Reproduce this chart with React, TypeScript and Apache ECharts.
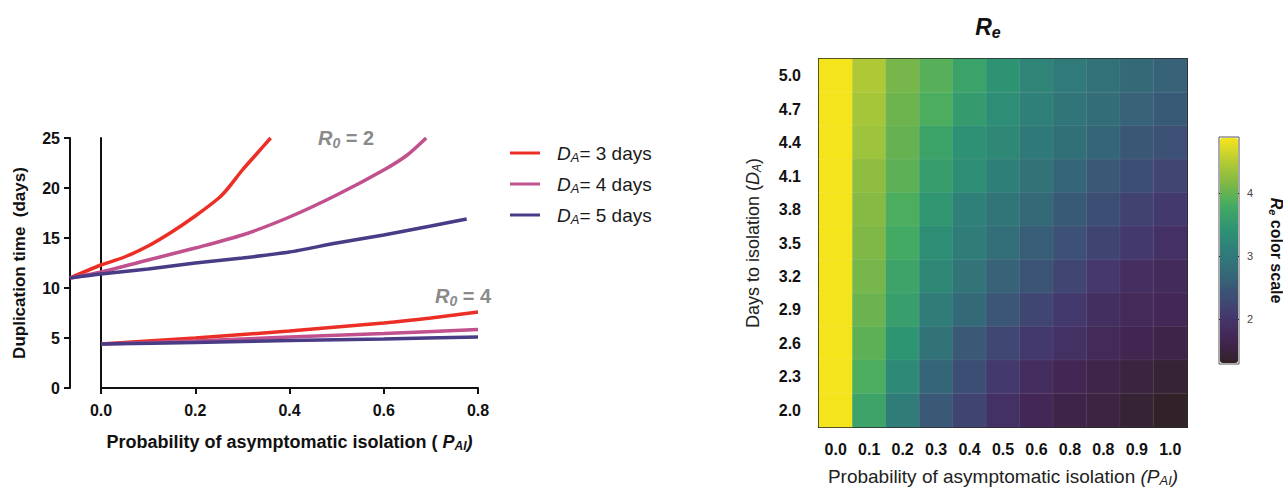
import React, { useEffect, useRef } from 'react';
import * as echarts from 'echarts';

const FONT = '"Liberation Sans", Arial, Helvetica, sans-serif';

// ---- Left chart: duplication time vs P_AI ----
const daysLabels = ['3', '4', '5'];
const lineColors = ['#ec2f26', '#c0508e', '#4a3b86'];
const xTicks = [0, 0.2, 0.4, 0.6, 0.8];

// R0 = 2 curves  [P_AI, duplication time]
const r2Da3: number[][] = [[-0.066, 11.0], [0, 12.3], [0.05, 13.1], [0.1, 14.2], [0.15, 15.6], [0.2, 17.2], [0.25, 19.0], [0.27, 20.0], [0.3, 21.8], [0.33, 23.4], [0.36, 25.0]];
const r2Da4: number[][] = [[-0.066, 11.0], [0, 11.6], [0.1, 12.8], [0.2, 14.0], [0.3, 15.3], [0.4, 17.1], [0.5, 19.3], [0.6, 21.8], [0.65, 23.3], [0.69, 25.0]];
const r2Da5: number[][] = [[-0.066, 11.0], [0, 11.4], [0.1, 11.9], [0.2, 12.5], [0.3, 13.0], [0.4, 13.6], [0.5, 14.5], [0.6, 15.3], [0.7, 16.2], [0.776, 16.9]];
// R0 = 4 curves
const r4Da3: number[][] = [[0, 4.4], [0.2, 5.0], [0.4, 5.7], [0.6, 6.5], [0.7, 7.0], [0.8, 7.6]];
const r4Da4: number[][] = [[0, 4.4], [0.2, 4.7], [0.4, 5.1], [0.6, 5.45], [0.8, 5.85]];
const r4Da5: number[][] = [[0, 4.4], [0.2, 4.55], [0.4, 4.75], [0.6, 4.9], [0.8, 5.1]];

// ---- Right chart: Re heatmap ----
const heatX = ['0.0', '0.1', '0.2', '0.3', '0.4', '0.5', '0.6', '0.8', '0.8', '0.9', '1.0'];
const heatY = ['2.0', '2.3', '2.6', '2.9', '3.2', '3.5', '3.8', '4.1', '4.4', '4.7', '5.0'];
// rows listed from top (D_A = 5.0) to bottom (D_A = 2.0)
const reRow50 = [4.85, 4.45, 4.10, 3.92, 3.66, 3.42, 3.18, 3.02, 2.86, 2.72, 2.62];
const reRow47 = [4.85, 4.40, 4.05, 3.85, 3.55, 3.35, 3.12, 2.92, 2.80, 2.62, 2.52];
const reRow44 = [4.85, 4.35, 4.00, 3.67, 3.40, 3.24, 3.00, 2.84, 2.68, 2.48, 2.38];
const reRow41 = [4.85, 4.25, 3.95, 3.58, 3.33, 3.10, 2.88, 2.68, 2.50, 2.35, 2.22];
const reRow38 = [4.85, 4.20, 3.85, 3.48, 3.12, 2.92, 2.72, 2.52, 2.36, 2.18, 2.04];
const reRow35 = [4.85, 4.15, 3.78, 3.34, 3.05, 2.82, 2.56, 2.40, 2.20, 2.04, 1.88];
const reRow32 = [4.85, 4.10, 3.68, 3.25, 2.90, 2.62, 2.44, 2.22, 2.03, 1.85, 1.80];
const reRow29 = [4.85, 4.03, 3.60, 3.05, 2.72, 2.46, 2.24, 2.05, 1.86, 1.75, 1.72];
const reRow26 = [4.85, 3.95, 3.45, 2.88, 2.50, 2.26, 2.05, 1.90, 1.75, 1.65, 1.58];
const reRow23 = [4.85, 3.85, 3.28, 2.68, 2.36, 2.05, 1.84, 1.68, 1.60, 1.50, 1.42];
const reRow20 = [4.85, 3.68, 3.05, 2.50, 2.20, 1.90, 1.72, 1.58, 1.52, 1.42, 1.32];
const reRows = [reRow50, reRow47, reRow44, reRow41, reRow38, reRow35, reRow32, reRow29, reRow26, reRow23, reRow20];

const reMin = 1.3;
const reMax = 4.87;
const colorTicks = [2, 3, 4];
const reColors = ['#302228', '#432552', '#44376c', '#3d4f75', '#346a78', '#2f7e79', '#2e9473', '#44ab62', '#80b846', '#b8cc33', '#f6e51b'];

// rich styles for ECharts text (uses "color")
const subRich = (size: number, color: string, weight: string) => ({
  i: { fontStyle: 'italic', fontWeight: weight, fontSize: size, color, fontFamily: FONT },
  s: { fontStyle: 'italic', fontWeight: weight, fontSize: Math.round(size * 0.68), color, fontFamily: FONT, padding: [Math.round(size * 0.45), 0, 0, 0] },
  t: { fontWeight: weight, fontSize: size, color, fontFamily: FONT },
});
// rich styles for graphic text (zrender uses "fill")
const subRichG = (size: number, color: string, weight: string) => ({
  i: { fontStyle: 'italic', fontWeight: weight, fontSize: size, fill: color, fontFamily: FONT },
  s: { fontStyle: 'italic', fontWeight: weight, fontSize: Math.round(size * 0.68), fill: color, fontFamily: FONT, padding: [Math.round(size * 0.45), 0, 0, 0] },
  t: { fontWeight: weight, fontSize: size, fill: color, fontFamily: FONT },
});

export default function App() {
  const ref = useRef<HTMLDivElement>(null);
  useEffect(() => {
    if (!ref.current) return;
    const chart = echarts.init(ref.current, null, { renderer: 'svg' });

    const heatData: number[][] = [];
    reRows.forEach((row, r) => {
      row.forEach((v, c) => heatData.push([c, heatY.length - 1 - r, v]));
    });

    const lineSeries = (name: string, data: number[][], color: string) => ({
      type: 'line',
      name,
      data,
      xAxisIndex: 4,
      yAxisIndex: 6,
      color,
      showSymbol: false,
      smooth: 0.25,
      lineStyle: { width: 3.5, color },
      itemStyle: { color },
      z: 3,
    });

    const black = '#111';
    const tickFont = { color: black, fontSize: 16, fontWeight: 'bold', fontFamily: FONT };

    const option: any = {
      animation: false,
      backgroundColor: '#ffffff',
      textStyle: { fontFamily: FONT },
      grid: [
        { left: 101, top: 138, width: 377, height: 250, outerBoundsMode: 'none' },
        { left: 819, top: 59, width: 368, height: 368, outerBoundsMode: 'none' },
        { left: 1219, top: 137, width: 20, height: 227, show: true, borderColor: '#555', borderWidth: 1, backgroundColor: 'transparent', outerBoundsMode: 'none' },
        { left: 70, top: 138, width: 408, height: 250, outerBoundsMode: 'none' },
      ],
      xAxis: [
        {
          gridIndex: 0, type: 'value', min: 0, max: 0.8, interval: 0.2,
          axisLine: { show: true, onZero: false, lineStyle: { color: black, width: 2 } },
          axisTick: { show: true, length: 6, customValues: xTicks, lineStyle: { color: black, width: 2 } },
          axisLabel: { ...tickFont, margin: 14, customValues: xTicks, formatter: (v: number) => v.toFixed(1) },
          splitLine: { show: false },
          name: '{t|Probability of asymptomatic isolation ( }{i|P}{s|AI}{i|)}',
          nameLocation: 'middle', nameGap: 44,
          nameTextStyle: { rich: subRich(18, black, 'bold') },
        },
        {
          gridIndex: 1, type: 'category', data: heatX, position: 'bottom',
          axisLine: { show: true, lineStyle: { color: '#1a1a1a', width: 2 } },
          axisTick: { show: false },
          axisLabel: { ...tickFont, interval: 0, margin: 14 },
          splitLine: { show: false },
          name: '{t|Probability of asymptomatic isolation }{i|(P}{s|AI}{i|)}',
          nameLocation: 'middle', nameGap: 38,
          nameTextStyle: { rich: subRich(19, '#222', 'normal') },
        },
        {
          gridIndex: 1, type: 'category', data: heatX, position: 'top',
          axisLine: { show: true, lineStyle: { color: '#1a1a1a', width: 2 } },
          axisTick: { show: false }, axisLabel: { show: false }, splitLine: { show: false },
        },
        {
          gridIndex: 2, type: 'value', min: 0, max: 1, show: false,
        },
        {
          gridIndex: 3, type: 'value', min: -0.0658, max: 0.8, show: false,
        },
      ],
      yAxis: [
        {
          gridIndex: 0, type: 'value', min: 0, max: 25, interval: 5,
          axisLine: { show: true, onZero: false, lineStyle: { color: black, width: 2 } },
          axisTick: { show: false }, axisLabel: { show: false }, splitLine: { show: false },
        },
        {
          gridIndex: 0, type: 'value', min: 0, max: 25, interval: 5, position: 'left', offset: 31,
          axisLine: { show: true, onZero: false, lineStyle: { color: black, width: 2 } },
          axisTick: { show: true, length: 6, lineStyle: { color: black, width: 2 } },
          axisLabel: { ...tickFont, margin: 10 },
          splitLine: { show: false },
          name: 'Duplication time  (days)', nameLocation: 'middle', nameGap: 42, nameRotate: 90,
          nameTextStyle: { color: black, fontSize: 17, fontWeight: 'bold', fontFamily: FONT },
        },
        {
          gridIndex: 1, type: 'category', data: heatY, position: 'left',
          axisLine: { show: true, lineStyle: { color: '#1a1a1a', width: 2 } },
          axisTick: { show: false },
          axisLabel: { ...tickFont, interval: 0, margin: 18 },
          splitLine: { show: false },
          name: '{t|Days to isolation (}{i|D}{s|A}{t|)}', nameLocation: 'middle', nameGap: 56, nameRotate: 90,
          nameTextStyle: { rich: subRich(18, '#222', 'normal') },
        },
        {
          gridIndex: 1, type: 'category', data: heatY, position: 'right',
          axisLine: { show: true, lineStyle: { color: '#1a1a1a', width: 2 } },
          axisTick: { show: false }, axisLabel: { show: false }, splitLine: { show: false },
        },
        {
          gridIndex: 2, type: 'value', min: 1.284, max: 4.886, position: 'left',
          axisLine: { show: false },
          axisTick: { show: true, inside: true, length: 3, customValues: colorTicks, lineStyle: { color: '#222', width: 1 } },
          axisLabel: { show: false }, splitLine: { show: false },
        },
        {
          gridIndex: 2, type: 'value', min: 1.284, max: 4.886, position: 'right',
          axisLine: { show: false },
          axisTick: { show: true, inside: true, length: 3, customValues: colorTicks, lineStyle: { color: '#222', width: 1 } },
          axisLabel: { show: true, customValues: colorTicks, color: '#444', fontSize: 11, margin: 8, fontFamily: FONT },
          splitLine: { show: false },
          name: '{i|R}{s|e}{t| color scale}', nameLocation: 'middle', nameGap: 28, nameRotate: -90,
          nameTextStyle: { rich: subRich(16, '#111', 'bold') },
        },
        {
          gridIndex: 3, type: 'value', min: 0, max: 25, show: false,
        },
      ],
      visualMap: {
        type: 'continuous', seriesIndex: 6, dimension: 2, min: reMin, max: reMax,
        orient: 'vertical', left: 1220, top: 138, itemWidth: 18, itemHeight: 225,
        calculable: false, text: ['', ''], padding: 0, hoverLink: false,
        inRange: { color: reColors },
      },
      legend: {
        data: daysLabels.map((d) => 'DA' + d),
        orient: 'vertical', left: 505, top: 137,
        itemWidth: 30, itemHeight: 3, itemGap: 9, icon: 'rect',
        selectedMode: false,
        formatter: (name: string) => `{g| }{i|D}{s|A}{t|= ${name.slice(2)} days}`,
        textStyle: {
          rich: {
            g: { width: 12, fontSize: 19, lineHeight: 22 },
            i: { fontStyle: 'italic', fontSize: 19, color: '#1a1a1a', fontFamily: FONT, lineHeight: 22 },
            s: { fontStyle: 'italic', fontSize: 13, color: '#1a1a1a', fontFamily: FONT, padding: [9, 0, 0, 0], lineHeight: 22 },
            t: { fontSize: 19, color: '#1a1a1a', fontFamily: FONT, lineHeight: 22 },
          },
        },
      },
      graphic: [
        {
          type: 'text', x: 346, y: 138,
          style: { text: '{i|R}{s|0}{t| = 2}', align: 'center', verticalAlign: 'middle', rich: subRichG(20, '#8a8a8a', 'bold') },
        },
        {
          type: 'text', x: 463, y: 296,
          style: { text: '{i|R}{s|0}{t| = 4}', align: 'center', verticalAlign: 'middle', rich: subRichG(20, '#8a8a8a', 'bold') },
        },
        {
          type: 'text', x: 988, y: 27,
          style: { text: '{i|R}{s|e}', align: 'center', verticalAlign: 'middle', rich: subRichG(23, '#111', 'bold') },
        },
      ],
      series: [
        lineSeries('DA3', r2Da3, lineColors[0]),
        lineSeries('DA4', r2Da4, lineColors[1]),
        lineSeries('DA5', r2Da5, lineColors[2]),
        lineSeries('DA3', r4Da3, lineColors[0]),
        lineSeries('DA4', r4Da4, lineColors[1]),
        lineSeries('DA5', r4Da5, lineColors[2]),
        {
          type: 'heatmap', xAxisIndex: 1, yAxisIndex: 2, data: heatData,
          itemStyle: { borderColor: 'rgba(255,255,255,0.07)', borderWidth: 1 },
          emphasis: { disabled: true },
        },
      ],
    };
    chart.setOption(option);
    return () => chart.dispose();
  }, []);
  return <div ref={ref} style={{ position: 'absolute', left: 0, top: 0, width: 1283, height: 488, background: '#fff' }} />;
}
